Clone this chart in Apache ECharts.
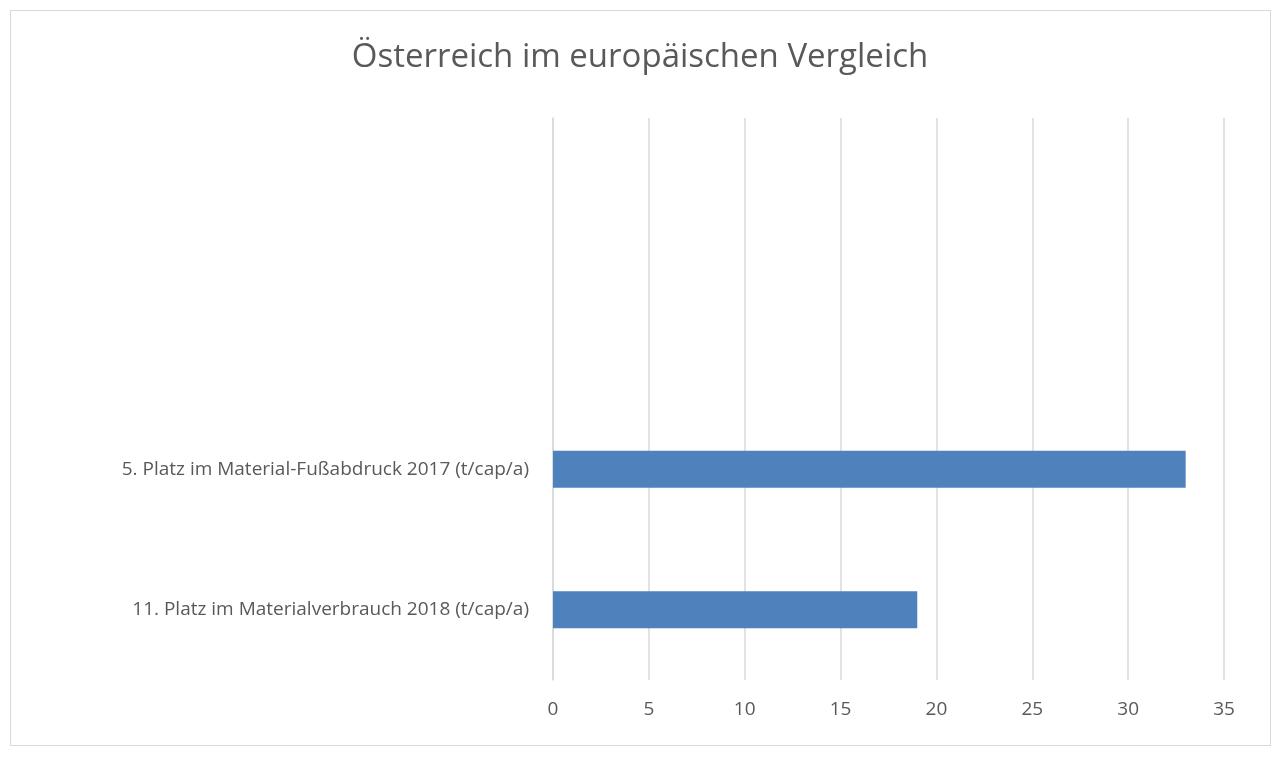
<!DOCTYPE html>
<html>
<head>
<meta charset="utf-8">
<script src="https://cdn.jsdelivr.net/npm/echarts@6/dist/echarts.min.js"></script>
<style>
  html, body { margin: 0; padding: 0; background: #fff; }
  #frame { position: absolute; left: 10px; top: 10px; width: 1259px; height: 734px; border: 1px solid #d9d9d9; }
  #chart { position: absolute; left: 0; top: 0; width: 1280px; height: 757px; }
</style>
</head>
<body>
<div id="frame"></div>
<div id="chart"></div>
<script>
// Kategorien von unten nach oben (die oberen zwei Plätze bleiben leer)
const categories = ['11. Platz im Materialverbrauch 2018 (t/cap/a)', '5. Platz im Material-Fußabdruck 2017 (t/cap/a)', '', ''];
const values = [19, 33, null, null];

let myChart = echarts.init(document.getElementById('chart'));
myChart.setOption({
    animation: false,
    title: {
        text: 'Österreich im europäischen Vergleich',
        left: 'center',
        top: 36,
        textStyle: { fontFamily: 'Open Sans', fontSize: 33, fontWeight: 'normal', color: '#595959' }
    },
    grid: { left: 553, right: 56, top: 118, bottom: 77 },
    xAxis: {
        type: 'value',
        min: 0,
        max: 35,
        interval: 5,
        axisLine: { show: false },
        axisTick: { show: false },
        axisLabel: { fontFamily: 'Open Sans', fontSize: 19, color: '#595959', margin: 20 },
        splitLine: { lineStyle: { color: '#d9d9d9', width: 1.5 } }
    },
    yAxis: {
        type: 'category',
        data: categories,
        axisLine: { lineStyle: { color: '#d9d9d9', width: 1.5 } },
        axisTick: { show: false },
        axisLabel: { fontFamily: 'Open Sans', fontSize: 19, color: '#595959', margin: 24 }
    },
    series: [{
        type: 'bar',
        data: values,
        barWidth: 37,
        itemStyle: { color: '#4f81bd' }
    }]
});
</script>
</body>
</html>
